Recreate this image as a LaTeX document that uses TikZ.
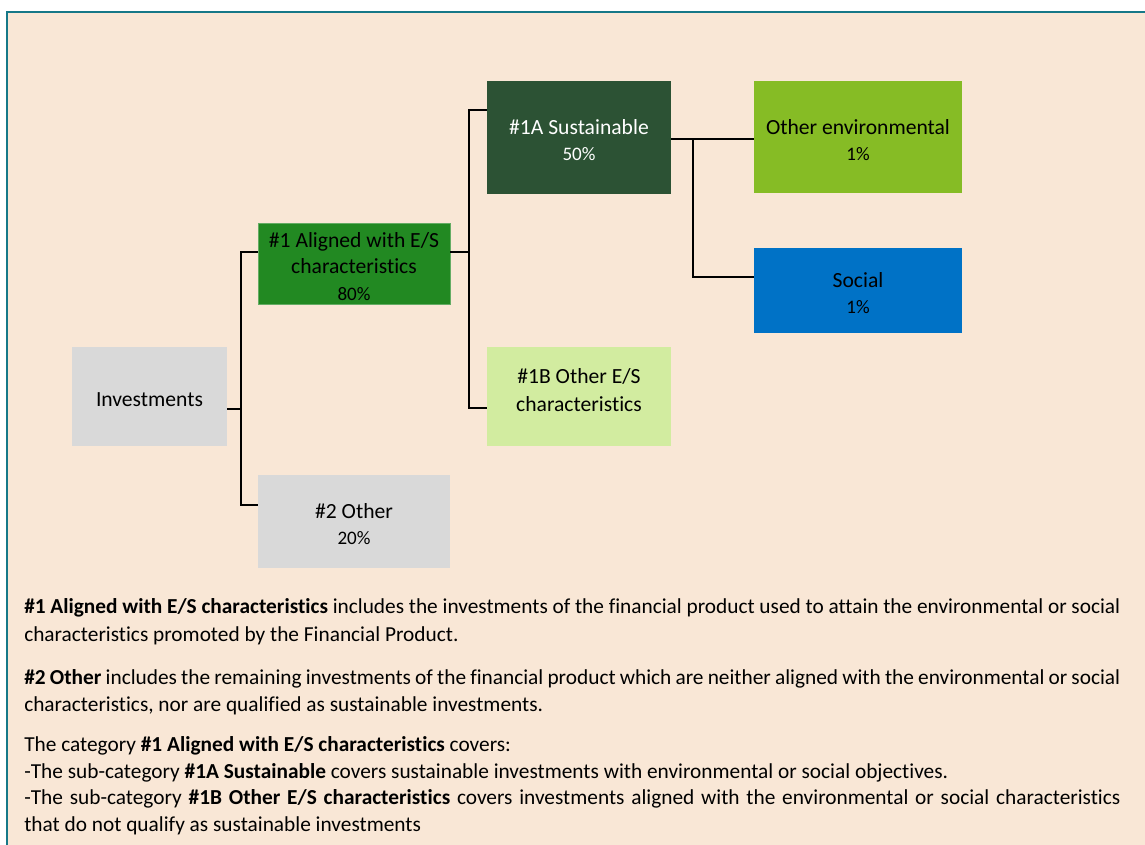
\documentclass[tikz,border=0pt]{standalone}
\usepackage{fontspec}
\setmainfont{Carlito}[Ligatures={NoCommon,NoDiscretionary,NoContextual}]
\usetikzlibrary{calc}
\definecolor{peach}{RGB}{249,231,214}
\definecolor{frameteal}{RGB}{22,120,136}
\definecolor{greybox}{RGB}{217,217,217}
\definecolor{alignedgreen}{RGB}{34,137,34}
\definecolor{sustgreen}{RGB}{44,82,52}
\definecolor{lightgreen}{RGB}{210,236,160}
\definecolor{envgreen}{RGB}{134,188,37}
\definecolor{socialblue}{RGB}{0,114,198}
\tikzset{
  box/.style={rectangle, inner sep=0pt, align=center, font=\fontsize{16.2}{19.8}\selectfont},
  conn/.style={draw=black, line width=1.2pt},
  body/.style={anchor=base west, inner sep=0pt, font=\fontsize{16}{18}\selectfont},
}
\newcommand{\pct}[1]{{\fontsize{14.3}{19.8}\selectfont #1}}
\newcommand{\bt}[2][-3.75pt]{\raisebox{#1}[\height][\depth]{\begin{tabular}{@{}c@{}}#2\end{tabular}}}
\begin{document}
\begin{tikzpicture}[x=0.75pt,y=-0.75pt]
\useasboundingbox (0,0) rectangle (1145,845);
\clip (0,0) rectangle (1145,845);
\fill[white] (0,0) rectangle (1145,845);
\draw[draw=frameteal, line width=1.6pt, fill=peach] (7,12) rectangle (1170,870);

% boxes
\node[box, fill=greybox, minimum width=155*0.75pt, minimum height=99*0.75pt] (inv) at (149.5,396.5) {\bt{Investments}};
\node[box, fill=alignedgreen, draw=alignedgreen!70!white, line width=0.5pt, minimum width=192*0.75pt, minimum height=81*0.75pt] (a1) at (354,263.5) {\bt{\#1 Aligned with E/S\\characteristics\\\pct{80\%}}};
\node[box, fill=greybox, minimum width=192*0.75pt, minimum height=93*0.75pt] (o2) at (354,521.5) {\bt{\#2 Other\\\pct{20\%}}};
\node[box, fill=sustgreen, text=white, minimum width=184*0.75pt, minimum height=113*0.75pt] (s1a) at (579,137.5) {\bt{\#1A Sustainable\\\pct{50\%}}};
\node[box, fill=lightgreen, minimum width=184*0.75pt, minimum height=99*0.75pt] (s1b) at (579,396.5) {\bt[3pt]{\#1B Other E/S\\[1pt]characteristics}};
\node[box, fill=envgreen, minimum width=208*0.75pt, minimum height=112*0.75pt] (env) at (858,137) {\bt{Other environmental\\\pct{1\%}}};
\node[box, fill=socialblue, minimum width=208*0.75pt, minimum height=85*0.75pt] (soc) at (858,290.5) {\bt{Social\\\pct{1\%}}};

% connectors
\coordinate (bus1) at (241,0);
\coordinate (bus2) at (469,0);
\coordinate (bus3) at (693,0);
\draw[conn] ($(inv.east)+(0,12.5)$) -- (bus1 |- {$(inv.east)+(0,12.5)$});
\draw[conn] ($(a1.west)+(0,-11.5)$) -| (bus1 |- {$(o2.west)+(0,-16.5)$}) -- ($(o2.west)+(0,-16.5)$);
\draw[conn] ($(a1.east)+(0,-11.5)$) -- (bus2 |- {$(a1.east)+(0,-11.5)$});
\draw[conn] ($(s1a.west)+(0,-27.5)$) -| (bus2 |- {$(s1b.west)+(0,11.5)$}) -- ($(s1b.west)+(0,11.5)$);
\draw[conn, line width=0.9pt] ($(s1a.east)+(0,1.5)$) -- ($(env.west)+(0,2)$);
\draw[conn, line width=0.9pt] (bus3 |- {$(s1a.east)+(0,1.5)$}) |- ($(soc.west)+(0,-13.5)$);

% body text
\node[body] (t1) at (24,613) {\makebox[822pt][s]{\textbf{\#1 Aligned with E/S characteristics} includes the investments of the financial product used to attain the environmental or social}};
\node[body] (t2) at (24,641) {characteristics promoted by the Financial Product.};
\node[body] (t3) at (24,684) {\makebox[822pt][s]{\textbf{\#2 Other} includes the remaining investments of the financial product which are neither aligned with the environmental or social}};
\node[body] (t4) at (24,711) {characteristics, nor are qualified as sustainable investments.};
\node[body] (t5) at (24,751) {The category \textbf{\#1 Aligned with E/S characteristics} covers:};
\node[body] (t6) at (24,778) {-The sub-category \textbf{\#1A Sustainable} covers sustainable investments with environmental or social objectives.};
\node[body] (t7) at (24,804) {\makebox[822pt][s]{-The sub-category \textbf{\#1B Other E/S characteristics} covers investments aligned with the environmental or social characteristics}};
\node[body] (t8) at (24,831) {that do not qualify as sustainable investments};
\end{tikzpicture}
\end{document}
